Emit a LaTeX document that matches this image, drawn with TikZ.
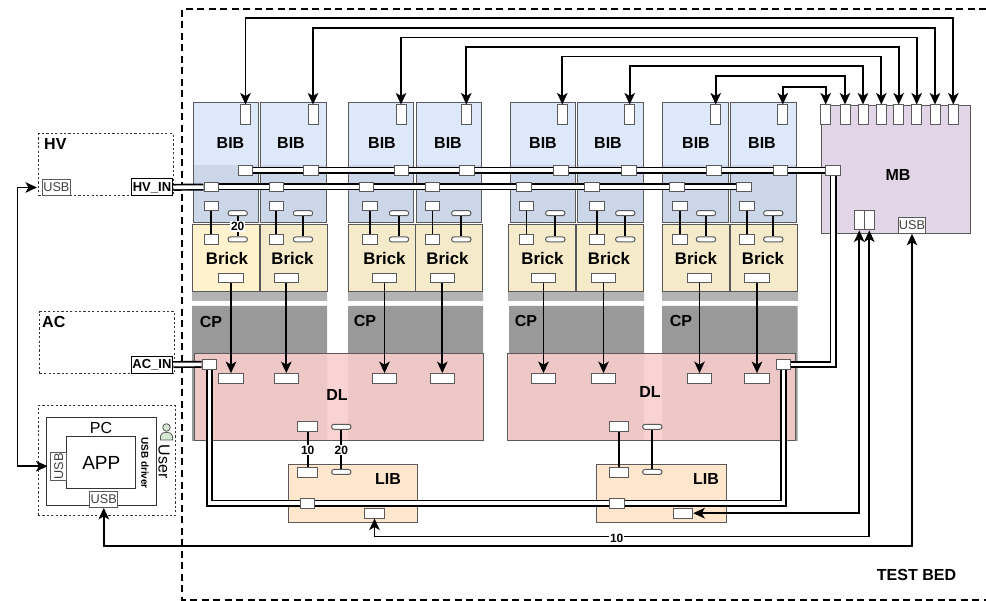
\documentclass[tikz,border=0pt]{standalone}
\usepackage{fontspec}
\setmainfont{Liberation Sans}
\usetikzlibrary{arrows.meta,positioning}
\definecolor{bibBlue}{HTML}{DDE9FB}
\definecolor{bibShade}{HTML}{CBD6E8}
\definecolor{brickLight}{HTML}{FFF2CC}
\definecolor{brickTan}{HTML}{F5EAC9}
\definecolor{dlPink}{HTML}{F8CECC}
\definecolor{libPeach}{HTML}{FFE6CC}
\definecolor{mbLilac}{HTML}{E1D5E7}
\definecolor{userGreen}{HTML}{D5E8D4}
\definecolor{cpGray}{HTML}{999999}
\definecolor{cpLight}{HTML}{B3B3B3}
\definecolor{edgeGray}{HTML}{5A5A5A}

\begin{document}
\begin{tikzpicture}[x=1pt,y=-1pt,>={Stealth[length=11.5pt,width=10.5pt,inset=3pt]},
    panel/.style={draw=edgeGray,line width=1pt,inner sep=0pt},
    bibbox/.style={panel,fill=bibBlue,minimum width=65.5pt,minimum height=120.5pt},
    brickbox/.style={panel,draw=black!65,minimum width=67pt,minimum height=67pt},
    port/.style={draw=edgeGray,fill=white,line width=1pt,inner sep=0pt,minimum width=14.6pt,minimum height=9.7pt},
    tallport/.style={port,minimum width=10pt,minimum height=20pt},
    wideport/.style={port,minimum width=24.4pt},
    midport/.style={port,minimum width=19.5pt},
    pill/.style={port,minimum width=19.4pt,minimum height=5pt,rounded corners=2.4pt},
    dotbox/.style={draw=black!80,line width=1pt,dash pattern=on 2.2pt off 2.2pt,inner sep=0pt},
    usbbox/.style={draw=edgeGray,fill=white,line width=1pt,inner sep=0pt,text=black!75,font=\fontsize{12.7}{13}\selectfont},
    inbox/.style={draw,fill=white,line width=1pt,inner sep=0pt,minimum width=41.5pt,minimum height=17pt,font=\bfseries\fontsize{13}{13}\selectfont},
    title/.style={inner sep=0pt,font=\bfseries\fontsize{16}{16}\selectfont},
    plain/.style={inner sep=0pt,font=\fontsize{16}{16}\selectfont},
    num/.style={fill=white,inner sep=1pt,font=\bfseries\fontsize{12}{12}\selectfont},
    wire/.style={line width=1.7pt},
    bus/.style={double=white,double distance=3.6pt,line width=1.7pt}]
    \useasboundingbox (0,0) rectangle (986,601);
    \draw[line width=1.5pt,dash pattern=on 7pt off 4.5pt] (986,9)--(182,9)--(182,600)--(986,600);
    \node[title] (testbed) at (916.5,574.5) {TEST BED};

    \node[dotbox,minimum width=134.5pt,minimum height=62pt] (hv) at (106,165) {};
    \node[title,right] (hvname) at (44,144) {HV};
    \node[usbbox,minimum width=27.3pt,minimum height=16.7pt] (hvusb) at (56.4,187.5) {USB};
    \node[inbox] (hvin) at (152,187.5) {HV\_IN};
    \node[dotbox,minimum width=134.8pt,minimum height=62.3pt] (ac) at (107.1,342.8) {};
    \node[title,right] (acname) at (42,322) {AC};
    \node[inbox] (acin) at (152,364.6) {AC\_IN};
    \node[dotbox,minimum width=137.5pt,minimum height=110pt] (user) at (106.8,460.7) {};
    \node[draw=black!80,line width=1pt,minimum width=110.7pt,minimum height=88pt] (pc) at (101.6,462) {};
    \node[plain] (pcname) at (101,428) {PC};
    \node[draw=black!80,line width=1pt,inner sep=0pt,minimum width=69.3pt,minimum height=51.7pt,font=\fontsize{19}{19}\selectfont] (app) at (101.3,462.8) {APP};
    \node[usbbox,rotate=90,minimum width=28.3pt,minimum height=16pt] (appusb) at (58.7,466.2) {USB};
    \node[usbbox,minimum width=27.7pt,minimum height=16.3pt] (pcusb) at (103.8,499.2) {USB};
    \node[rotate=-90,inner sep=0pt,font=\bfseries\fontsize{10}{10}\selectfont] (driver) at (145,463) {USB driver};
    \node[plain,rotate=-90] (username) at (164,461.5) {User};
    \fill[userGreen,draw=black!65,line width=0.8pt] (160.5,440)--(160.5,436) .. controls (160.5,431) and (172.5,431) .. (172.5,436)--(172.5,440)--cycle;
    \fill[userGreen,draw=black!65,line width=0.8pt] (166.5,427.5) circle (3.8);

    \fill[cpLight] (192,292) rectangle (327,301) (348,292) rectangle (483,301)
        (508,292) rectangle (644,301) (662,292) rectangle (798,301);
    \fill[cpGray] (192,306) rectangle (327,441) (348,306) rectangle (483,441)
        (509,306) rectangle (644,441) (662,306) rectangle (797.7,441);
    \node[title] (cp1) at (211,322) {CP};
    \node[title] (cp2) at (365,321) {CP};
    \node[title] (cp3) at (526,321) {CP};
    \node[title] (cp4) at (681,321) {CP};
    \node[draw=edgeGray,fill=dlPink,fill opacity=0.9,line width=1pt,minimum width=288.5pt,minimum height=87pt] (dla) at (339,397.5) {};
    \node[draw=edgeGray,fill=dlPink,fill opacity=0.9,line width=1pt,minimum width=288.4pt,minimum height=87pt] (dlb) at (651.5,397.5) {};
    \node[title] (dlaname) at (337,395) {DL};
    \node[title] (dlbname) at (650,392) {DL};

    \foreach \i/\cx/\bx/\lx/\kx/\tx/\ux/\vx/\sx/\px/\ox/\bc in {
        1/226/226/230.5/227/245.5/245.3/211.3/211.3/237.7/231/brickLight,
        2/293.5/293.5/291/292.5/313/311/276.3/276.3/303/286.3/brickTan,
        3/381/381.5/382/384.5/401/401.3/366.3/370/399/384.5/brickTan,
        4/449/449/448/447.5/466.3/466.7/432.3/432.5/461.3/442.3/brickTan,
        5/543/542/543/542.5/562.3/560.7/523.7/526.5/555.3/543.5/brickTan,
        6/610.5/610/608/609/629.7/628.7/591.7/596.7/625.3/603.5/brickTan,
        7/695.5/696/696/696/715.7/714.2/676.7/679.7/706/699.5/brickTan,
        8/763.7/764/762/763/782.8/780.3/743.7/746.8/773.3/757/brickTan}{
        \node[bibbox] (bib\i) at (\cx,162.5) {};
        \fill[bibShade] (\cx-32.3,165) rectangle (\cx+32.3,222.3);
        \node[brickbox,fill=\bc] (brick\i) at (\bx,258.5) {};
        \node[title] (bibname\i) at (\lx,142.7) {BIB};
        \node[title,font=\bfseries\fontsize{16.8}{17}\selectfont] (brickname\i) at (\kx,258) {Brick};
        \node[tallport] (top\i) at (\tx,115) {};
        \node[port] (upper\i) at (\ux,170.3) {};
        \node[port] (lower\i) at (\vx,187) {};
        \node[port] (sqa\i) at (\sx,206) {};
        \node[port] (sqb\i) at (\sx,239.6) {};
        \node[pill] (pla\i) at (\px,213.2) {};
        \node[pill] (plb\i) at (\px,239.4) {};
        \node[wideport] (out\i) at (\ox,278) {};
        \node[wideport] (dlp\i) at (\ox,378.5) {};
        \draw[wire] (sqa\i)--(sqb\i);
        \draw[wire] (pla\i)--(plb\i);
        \draw[wire,->] (out\i.south)--(dlp\i.north);
    }
    \node[num] (n20a) at (237.7,226.7) {20};

    \node[panel,fill=mbLilac,minimum width=149pt,minimum height=128.7pt] (mb) at (895.5,169.4) {};
    \node[title] (mbname) at (898,175) {MB};
    \foreach \i/\tx in {1/825.7,2/845,3/863,4/881.3,5/898.7,6/916.7,7/935,8/953.3}{
        \node[tallport] (mbt\i) at (\tx,115) {};
    }
    \node[port] (mbu) at (833.2,170.3) {};
    \node[tallport,minimum height=19.3pt] (mbl1) at (859.3,220.3) {};
    \node[tallport,minimum height=19.3pt] (mbl2) at (869.3,220.3) {};
    \node[usbbox,minimum width=27.4pt,minimum height=16pt] (mbusb) at (912,225.3) {USB};
    \foreach \i/\j/\h in {8/1/86.7,7/2/75.7,6/3/66,5/4/56.5,4/5/47,3/6/37.5,2/7/28,1/8/18}{
        \draw[wire,<->] (mbt\j.north)--(mbt\j.north |- 0,\h)--(top\i.north |- 0,\h)--(top\i.north);
    }

    \node[panel,fill=libPeach,minimum width=129.3pt,minimum height=57.7pt] (liba) at (352.7,493.8) {};
    \node[panel,fill=libPeach,minimum width=130pt,minimum height=57.7pt] (libb) at (661.3,493.8) {};
    \node[title] (libaname) at (388,479) {LIB};
    \node[title] (libbname) at (706,479) {LIB};
    \node[midport] (dlsa) at (307.7,426.5) {};
    \node[pill] (dlpa) at (341.3,426.8) {};
    \node[midport] (dlsb) at (618.8,426.5) {};
    \node[pill] (dlpb) at (652.3,426.8) {};
    \node[midport] (libsa) at (307.7,472.2) {};
    \node[pill] (libpa) at (341.3,472) {};
    \node[midport] (libsb) at (618.8,472.2) {};
    \node[pill] (libpb) at (652.3,472) {};
    \node[port] (busa) at (307.3,503.3) {};
    \node[port] (busb) at (616.7,503.3) {};
    \node[midport] (liboa) at (374.5,513.2) {};
    \node[midport] (libob) at (683,513.2) {};
    \node[port] (acp) at (209.5,364.4) {};
    \node[port] (dlr) at (783.3,364.4) {};
    \draw[wire] (dlsa)--(libsa);
    \draw[wire] (dlpa)--(libpa);
    \draw[wire] (dlsb)--(libsb);
    \draw[wire] (dlpb)--(libpb);
    \node[num] (n10a) at (307.7,450) {10};
    \node[num] (n20b) at (341.3,450) {20};

    \draw[bus] (hvin)--(lower1);
    \foreach \i/\j in {1/2,2/3,3/4,4/5,5/6,6/7,7/8}{
        \draw[bus] (lower\i)--(lower\j);
        \draw[bus] (upper\i)--(upper\j);
    }
    \draw[bus] (upper8)--(mbu);
    \draw[bus] (mbu.south)|-(dlr.east);
    \draw[bus] (acin)--(acp);
    \draw[bus] (acp.south)|-(busa.west);
    \draw[bus] (busa)--(busb);
    \draw[bus] (busb.east)-|(dlr.south);

    \coordinate (hvend) at (37,187.5);
    \coordinate (pcend) at (47.5,466.2);
    \draw[wire,<->] (hvend)--(17.5,187.5)--(17.5,466.2)--(pcend);
    \draw[wire,<->] (mbl1.south)|-(libob.east);
    \draw[wire,<->] (mbl2.south)--(mbl2.south |- 0,536.5)-|(liboa.south);
    \draw[wire,<->] (mbusb.south)--(mbusb.south |- 0,546)-|(pcusb.south);
    \node[num] (n10b) at (616.7,538.5) {10};
\end{tikzpicture}
\end{document}
